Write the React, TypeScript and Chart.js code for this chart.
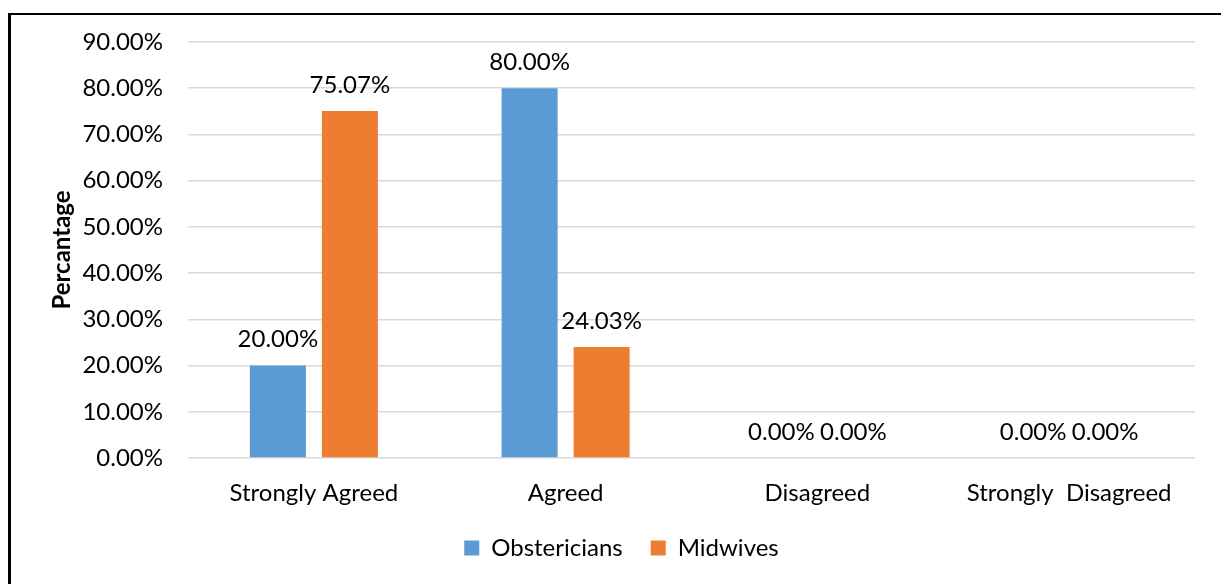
import React, { useEffect, useRef } from "react";
import { Chart, registerables } from "chart.js";

Chart.register(...registerables);

const categories = ["Strongly Agreed", "Agreed", "Disagreed", "Strongly  Disagreed"];
const seriesNames = ["Obstericians", "Midwives"];
const obstetricians = [20.0, 80.0, 0.0, 0.0];
const midwives = [75.07, 24.03, 0.0, 0.0];
const seriesColors = ["#5B9BD5", "#ED7D31"];
const yMin = 0;
const yMax = 90;
const yStep = 10;
const yTitle = "Percantage";

const FONT = "Lato, 'Open Sans', sans-serif";
const FS = 24;

const fmt = (v: number) => v.toFixed(2) + "%";

const valueLabels = {
  id: "valueLabels",
  afterDatasetsDraw(chart: any) {
    const ctx = chart.ctx;
    ctx.save();
    ctx.font = `${FS}px ${FONT}`;
    ctx.fillStyle = "#000";
    ctx.textAlign = "center";
    ctx.textBaseline = "middle";
    chart.data.datasets.forEach((ds: any, di: number) => {
      const meta = chart.getDatasetMeta(di);
      meta.data.forEach((bar: any, i: number) => {
        ctx.fillText(fmt(ds.data[i]), bar.x, bar.y - 26);
      });
    });
    ctx.restore();
  },
};

export default function App() {
  const ref = useRef<HTMLCanvasElement | null>(null);
  useEffect(() => {
    if (!ref.current) return;
    const chart = new Chart(ref.current, {
      type: "bar",
      data: {
        labels: categories,
        datasets: [
          {
            label: seriesNames[0],
            data: obstetricians,
            backgroundColor: seriesColors[0],
            categoryPercentage: 0.572,
            barPercentage: 0.778,
          },
          {
            label: seriesNames[1],
            data: midwives,
            backgroundColor: seriesColors[1],
            categoryPercentage: 0.572,
            barPercentage: 0.778,
          },
        ],
      },
      options: {
        responsive: false,
        animation: false,
        devicePixelRatio: 1,
        layout: { padding: { left: 48, right: 26, top: 42, bottom: 14 } },
        plugins: {
          tooltip: { enabled: false },
          legend: {
            position: "bottom",
            labels: {
              boxWidth: 15,
              boxHeight: 15,
              padding: 28,
              color: "#000",
              font: { family: FONT, size: FS },
            },
          },
        },
        scales: {
          x: {
            afterFit: (s: any) => {
              s.height = 50;
            },
            grid: { display: false, drawTicks: false },
            border: { display: false },
            ticks: {
              color: "#000",
              padding: 21,
              maxRotation: 0,
              autoSkip: false,
              font: { family: FONT, size: FS },
            },
          },
          y: {
            min: yMin,
            max: yMax,
            afterFit: (s: any) => {
              s.width = 140;
            },
            grid: { color: "#d9d9d9", lineWidth: 1.5, drawTicks: false },
            border: { display: false },
            ticks: {
              stepSize: yStep,
              padding: 25,
              color: "#000",
              font: { family: FONT, size: FS },
              callback: (v: any) => fmt(Number(v)),
            },
            title: {
              display: true,
              text: yTitle,
              color: "#000",
              padding: 0,
              font: { family: FONT, size: 24, weight: "bold" },
            },
          },
        },
      },
      plugins: [valueLabels],
    });
    return () => chart.destroy();
  }, []);
  return (
    <>
      <div
        style={{
          position: "fixed",
          left: 8,
          top: 13,
          width: 3000,
          height: 3000,
          borderTop: "2px solid #000",
          borderLeft: "3px solid #000",
        }}
      />
      <canvas
        ref={ref}
        width={1221}
        height={584}
        style={{ position: "fixed", left: 0, top: 0, width: 1221, height: 584 }}
      />
    </>
  );
}
